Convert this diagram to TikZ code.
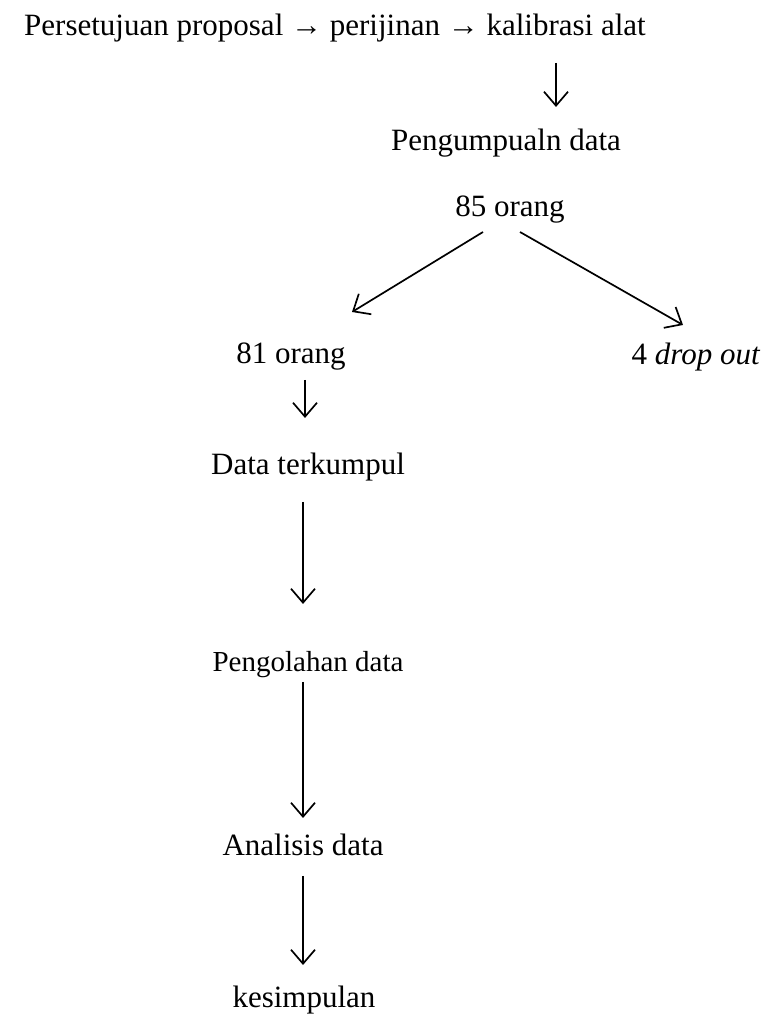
\documentclass[tikz,border=0pt]{standalone}
\usepackage{fontspec}
\setmainfont{Liberation Serif}
\usetikzlibrary{arrows.meta}
\begin{document}
\begin{tikzpicture}[x=1pt,y=1pt,
  lbl/.style={inner sep=0pt, font=\fontsize{31}{36}\selectfont},
  arr/.style={line width=1.7pt, -{Straight Barb[length=14pt,width=24pt,line width=1.7pt]}}]
\useasboundingbox (0,0) rectangle (768,1028);
\node[lbl] (top) at (335,1000) {Persetujuan proposal → perijinan → kalibrasi alat};
\node[lbl] (peng) at (506,885) {Pengumpualn data};
\node[lbl] (o85) at (510,818) {85 orang};
\node[lbl] (o81) at (291,671) {81 orang};
\node[lbl] (drop) at (696,671) {4 \textit{drop out}};
\node[lbl] (dt) at (308,561) {Data terkumpul};
\node[lbl, font=\fontsize{29}{34}\selectfont] (po) at (308,363) {Pengolahan data};
\node[lbl] (an) at (303,183) {Analisis data};
\node[lbl] (kes) at (304,28) {kesimpulan};
\coordinate (a1s) at (556,965); \coordinate (a1e) at (556,921);
\coordinate (l1s) at (483,796); \coordinate (l1e) at (352,716);
\coordinate (r1s) at (520,796); \coordinate (r1e) at (683,703);
\coordinate (a3s) at (305,648); \coordinate (a3e) at (305,610);
\coordinate (a4s) at (303,526); \coordinate (a4e) at (303,424);
\coordinate (a5s) at (303,346); \coordinate (a5e) at (303,210);
\coordinate (a6s) at (303,152); \coordinate (a6e) at (303,63);
\draw[arr] (a1s) -- (a1e);
\draw[arr] (l1s) -- (l1e);
\draw[arr] (r1s) -- (r1e);
\draw[arr] (a3s) -- (a3e);
\draw[arr] (a4s) -- (a4e);
\draw[arr] (a5s) -- (a5e);
\draw[arr] (a6s) -- (a6e);
\end{tikzpicture}
\end{document}
